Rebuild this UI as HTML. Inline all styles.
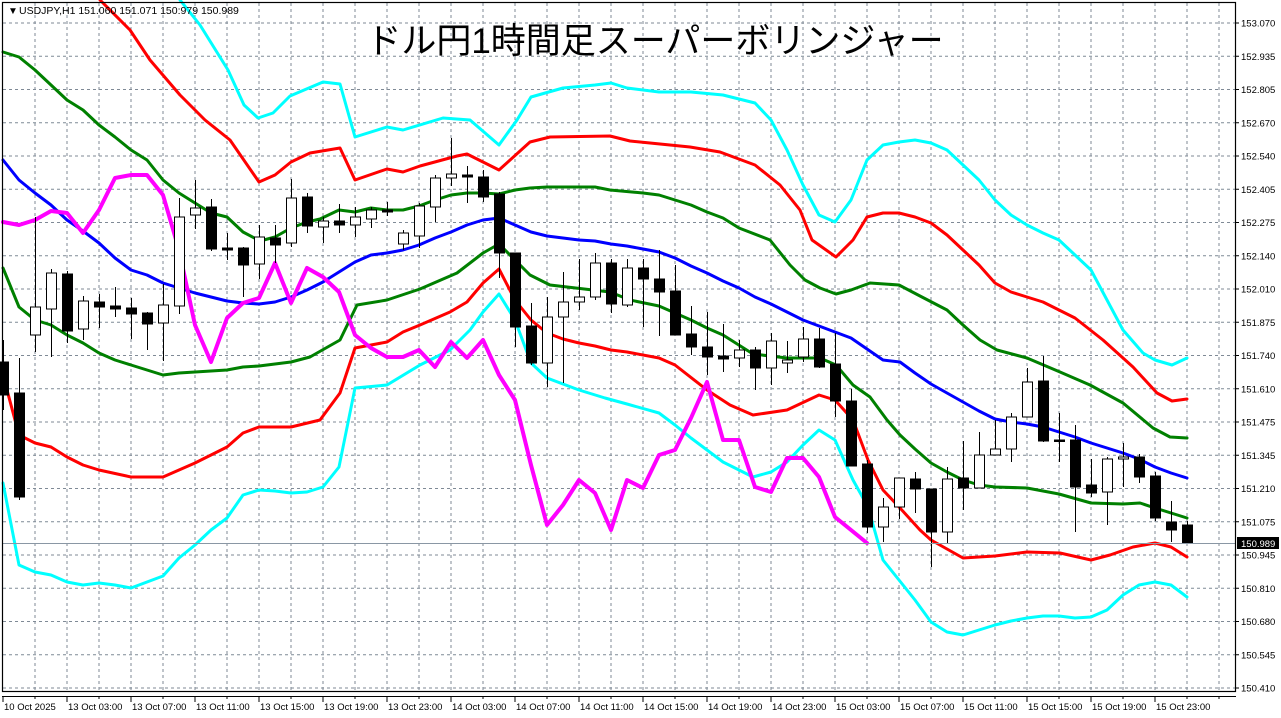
<!DOCTYPE html>
<html><head><meta charset="utf-8"><style>
html,body{margin:0;padding:0;background:#fff;}
svg{display:block;}
text{font-family:"Liberation Sans",sans-serif;}
</style></head><body>
<svg id="s" width="1281" height="718" xmlns="http://www.w3.org/2000/svg">
<rect width="1281" height="718" fill="#fff"/>
<g id="grid"></g>
<g id="bands" fill="none" stroke-linejoin="round" stroke-linecap="round"></g>
<g id="candles"></g>
<line x1="2" y1="543.5" x2="1235" y2="543.5" stroke="#8a97a4" stroke-width="1"/>
<rect x="2.5" y="2.5" width="1233" height="689" fill="none" stroke="#000" stroke-width="1.2"/>
<line x1="2" y1="696.5" x2="1236" y2="696.5" stroke="#000" stroke-width="1"/>
<g id="axis" font-size="9.5" fill="#000"></g>
<text x="8" y="14" font-size="10" fill="#000">▼</text>
<text x="19" y="14" font-size="10.5" fill="#000">USDJPY,H1  151.060 151.071 150:979 150.989</text>
<text x="655" y="53" font-size="35" text-anchor="middle" fill="#000" style="font-family:'Liberation Sans','Noto Sans CJK JP',sans-serif">ドル円1時間足スーパーボリンジャー</text>
<rect x="1237" y="537" width="42" height="12" fill="#000"/>
<text x="1241" y="547" font-size="9.5" fill="#fff">150.989</text>
</svg>
<script>
var NS="http://www.w3.org/2000/svg";
function el(p,t,a,txt){var e=document.createElementNS(NS,t);for(var k in a)e.setAttribute(k,a[k]);if(txt!==undefined)e.textContent=txt;document.getElementById(p).appendChild(e);return e;}
for(var k=0;k<21;k++){var y=23+33.25*k;el("grid","line",{x1:3,y1:y,x2:1235,y2:y,stroke:"#7f8a96","stroke-width":1,"stroke-dasharray":"3,3"});}
for(var x=35;x<1235;x+=32){el("grid","line",{x1:x,y1:3,x2:x,y2:691,stroke:"#7f8a96","stroke-width":1,"stroke-dasharray":"3,3"});}
var pl=["153.070","152.935","152.805","152.670","152.540","152.405","152.275","152.140","152.010","151.875","151.740","151.610","151.475","151.345","151.210","151.075","150.945","150.810","150.680","150.545","150.410"];
for(var k=0;k<pl.length;k++){var y=23+33.25*k;el("axis","line",{x1:1235,y1:y,x2:1239,y2:y,stroke:"#000"});el("axis","text",{x:1241,y:y+3.5},pl[k]);}
var tl=[[3,"10 Oct 2025"],[67,"13 Oct 03:00"],[131,"13 Oct 07:00"],[195,"13 Oct 11:00"],[259,"13 Oct 15:00"],[323,"13 Oct 19:00"],[387,"13 Oct 23:00"],[451,"14 Oct 03:00"],[515,"14 Oct 07:00"],[579,"14 Oct 11:00"],[643,"14 Oct 15:00"],[707,"14 Oct 19:00"],[771,"14 Oct 23:00"],[835,"15 Oct 03:00"],[899,"15 Oct 07:00"],[963,"15 Oct 11:00"],[1027,"15 Oct 15:00"],[1091,"15 Oct 19:00"],[1155,"15 Oct 23:00"]];
tl.forEach(function(t){el("axis","line",{x1:t[0],y1:697,x2:t[0],y2:702,stroke:"#000"});el("axis","text",{x:t[0]+1,y:710},t[1]);});
for(var x=35;x<1235;x+=32){el("axis","line",{x1:x,y1:697,x2:x,y2:699,stroke:"#000"});}
function P(arr){return arr.map(function(p){return p[0]+","+p[1]}).join(" ");}
var cyU=[[180,0],[200,25],[228,70],[244,105],[258,118],[273,113],[290,96],[323,82],[340,84],[355,137],[387,127],[403,130],[443,118],[470,120],[499,145],[517,120],[531,97],[563,88],[595,85],[611,83],[627,88],[659,92],[691,92],[723,95],[755,103],[771,120],[787,150],[803,185],[819,215],[835,222],[851,200],[867,160],[883,145],[899,142],[915,140],[931,143],[947,150],[963,165],[979,180],[995,200],[1011,215],[1027,225],[1043,233],[1059,240],[1075,255],[1091,270],[1107,300],[1123,330],[1143,353],[1155,360],[1172,365],[1187,358]];
var cyL=[[3,483],[19,565],[35,572],[51,575],[67,582],[83,585],[99,583],[115,585],[131,588],[147,582],[163,576],[179,558],[195,545],[211,530],[227,518],[243,495],[259,490],[275,491],[291,493],[307,492],[323,487],[339,467],[355,388],[387,385],[420,365],[450,350],[470,330],[483,312],[499,294],[515,320],[531,363],[547,378],[579,390],[605,398],[627,404],[659,413],[675,425],[691,438],[707,450],[723,462],[739,470],[753,477],[771,472],[787,462],[803,445],[819,430],[835,440],[853,480],[868,507],[883,560],[899,580],[915,600],[931,622],[947,632],[963,635],[979,630],[995,625],[1011,621],[1027,618],[1043,616],[1059,616],[1075,618],[1091,617],[1107,610],[1123,595],[1139,585],[1155,582],[1171,585],[1187,597]];
var rU=[[100,0],[130,30],[150,60],[180,95],[205,120],[230,140],[259,182],[275,175],[291,162],[310,153],[340,148],[355,180],[387,169],[403,172],[420,166],[457,156],[467,154],[499,170],[530,142],[550,137],[610,136],[630,141],[650,143],[690,147],[720,152],[755,165],[780,185],[800,210],[812,240],[836,257],[853,240],[867,217],[883,213],[899,213],[915,217],[931,223],[947,235],[963,250],[979,265],[995,283],[1011,292],[1027,297],[1043,302],[1059,310],[1075,318],[1103,340],[1133,367],[1157,393],[1172,401],[1187,399]];
var rL=[[3,375],[19,435],[35,443],[51,447],[67,457],[83,465],[99,470],[131,477],[163,477],[179,470],[195,463],[227,447],[243,433],[259,427],[291,427],[320,420],[340,393],[355,348],[387,342],[403,332],[420,325],[450,312],[467,302],[483,283],[499,269],[515,300],[531,320],[547,333],[563,339],[579,343],[595,346],[611,350],[627,352],[659,358],[675,365],[707,390],[730,405],[753,415],[787,410],[819,395],[835,400],[853,420],[868,460],[883,490],[900,508],[920,530],[931,540],[963,558],[995,556],[1027,552],[1060,553],[1091,560],[1110,555],[1133,547],[1155,543],[1171,547],[1187,557]];
var gU=[[3,52],[19,57],[35,70],[51,85],[67,100],[83,110],[99,125],[115,137],[131,150],[147,160],[163,180],[179,193],[195,203],[211,213],[227,217],[243,232],[260,241],[275,237],[291,228],[307,222],[320,219],[339,210],[355,212],[371,208],[387,210],[403,210],[419,206],[435,200],[451,195],[467,193],[483,193],[499,194],[515,190],[530,188],[547,187],[595,187],[610,190],[643,193],[659,195],[675,200],[691,205],[707,212],[723,218],[739,228],[770,240],[790,265],[805,280],[820,288],[836,294],[851,290],[870,283],[899,285],[920,296],[947,310],[963,325],[980,340],[997,350],[1027,358],[1060,372],[1090,385],[1123,403],[1153,428],[1170,437],[1187,438]];
var gL=[[3,268],[19,307],[35,320],[51,325],[67,335],[83,343],[99,353],[115,360],[131,365],[147,370],[163,375],[179,373],[195,372],[211,371],[227,370],[243,367],[259,366],[275,364],[291,362],[310,357],[340,340],[357,305],[387,300],[420,289],[457,273],[483,253],[499,244],[530,275],[550,285],[610,292],[630,300],[659,306],[675,313],[691,320],[707,328],[723,335],[753,354],[787,358],[820,358],[836,365],[853,385],[870,397],[887,420],[900,435],[915,449],[931,463],[947,472],[963,480],[979,485],[995,487],[1027,488],[1059,494],[1091,503],[1123,504],[1140,503],[1155,508],[1187,518]];
var bl=[[3,160],[19,180],[35,193],[51,205],[67,220],[83,231],[99,243],[115,258],[131,270],[147,275],[163,283],[179,288],[195,293],[211,297],[227,301],[243,303],[259,304],[275,302],[291,297],[307,290],[323,282],[339,272],[355,262],[371,255],[387,253],[403,250],[419,245],[435,238],[451,232],[467,225],[483,220],[499,218],[515,225],[531,232],[547,236],[563,238],[579,240],[595,241],[611,244],[627,246],[643,249],[659,252],[675,258],[691,266],[707,273],[723,281],[739,288],[755,297],[771,304],[787,312],[803,320],[819,326],[835,332],[851,338],[867,349],[883,360],[900,362],[915,373],[931,384],[947,393],[963,402],[979,411],[995,419],[1011,422],[1027,424],[1043,427],[1059,432],[1075,437],[1091,443],[1107,448],[1123,453],[1139,459],[1155,467],[1171,473],[1187,478]];
var mg=[[3,222],[19,225],[35,220],[51,211],[67,213],[83,233],[99,210],[115,178],[131,175],[147,175],[163,195],[179,250],[195,325],[211,362],[227,318],[243,303],[259,298],[275,263],[291,303],[307,268],[323,277],[339,292],[355,335],[371,348],[387,357],[403,357],[419,350],[435,367],[451,342],[467,358],[483,340],[499,375],[515,400],[531,465],[547,525],[563,505],[579,480],[595,493],[611,530],[627,480],[643,488],[659,455],[675,450],[691,418],[707,382],[723,440],[739,440],[755,487],[771,492],[787,458],[803,458],[819,477],[835,517],[851,530],[867,543]];
[[cyU,"#00ffff",3],[cyL,"#00ffff",3],[rU,"#ff0000",3],[rL,"#ff0000",3],[gU,"#008000",3],[gL,"#008000",3],[bl,"#0000ff",3],[mg,"#ff00ff",4]].forEach(function(s){el("bands","polyline",{points:P(s[0]),stroke:s[1],"stroke-width":s[2]});});
var c=[[3,362,395,340,410],[19,393,497,358,500],[35,335,307,217,352],[51,309,273,269,357],[67,274,331,271,343],[83,329,301,296,340],[99,302,307,294,328],[115,306,309,287,317],[131,308,314,298,339],[147,313,324,312,350],[163,323,305,284,361],[179,306,217,198,314],[195,215,208,180,229],[211,207,249,199,251],[227,248,250,233,260],[243,248,265,247,297],[259,264,237,225,279],[275,238,245,225,263],[291,243,198,179,247],[307,197,226,193,233],
[323,227,221,217,243],[339,221,225,204,233],[355,225,217,207,237],[371,219,210,207,228],[387,210,212,202,216],[403,244,233,230,250],[419,236,206,203,248],[435,207,178,175,222],[451,178,174,138,186],[467,175,177,166,203],[483,177,197,170,202],[499,194,253,192,278],[515,253,327,253,347],[531,326,363,303,365],[547,363,317,297,387],[563,317,302,272,383],[579,302,297,259,310],[595,297,263,253,300],[611,263,304,259,313],[627,305,268,259,307],
[643,268,279,259,327],[659,279,292,250,336],[675,291,335,265,335],[691,334,347,306,355],[707,347,357,312,375],[723,356,359,324,372],[739,358,350,340,367],[755,350,368,347,390],[771,368,341,333,385],[787,363,360,341,373],[803,357,339,327,362],[819,339,367,328,368],[835,364,401,333,417],[851,401,466,389,466],[867,464,527,460,533],[883,527,507,498,542],[899,507,478,478,519],[915,479,489,472,513],
[931,489,532,489,567],[947,532,479,467,544],[963,478,488,441,510],[979,488,455,432,488],[995,455,449,420,455],[1011,449,417,413,462],[1027,417,382,368,417],[1043,381,441,356,442],[1059,440,441,413,462],[1075,440,487,425,532],[1091,485,493,459,497],[1107,492,459,457,525],[1123,459,457,443,487],[1139,457,477,454,483],[1155,476,518,472,521],[1171,522,530,501,542],[1187,525,543,521,544]];
c.forEach(function(d){var x=d[0],o=d[1],cl=d[2],h=d[3],l=d[4];var bull=cl<o;var top=Math.min(o,cl),bot=Math.max(o,cl);if(bot-top<1.5)bot=top+1.5;
el("candles","line",{x1:x+0.5,y1:h,x2:x+0.5,y2:l,stroke:"#000","stroke-width":1});
el("candles","rect",{x:x-4.5,y:top,width:10,height:bot-top,fill:bull?"#fff":"#000",stroke:"#000","stroke-width":1});});
</script>
</body></html>
